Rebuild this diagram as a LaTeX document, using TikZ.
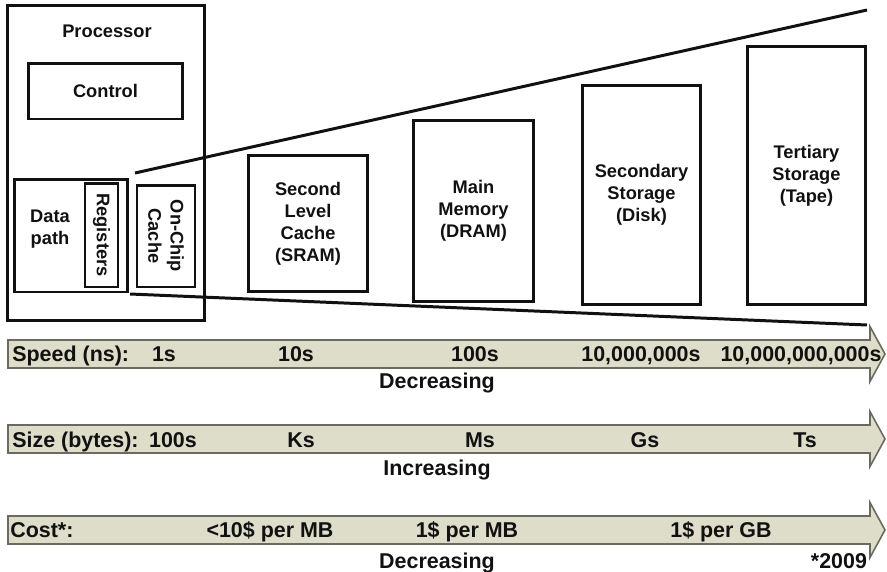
\documentclass[tikz,border=0pt]{standalone}
\usepackage{fontspec}
\setmainfont{Liberation Sans}
\usetikzlibrary{positioning}
\definecolor{bandfill}{HTML}{DDDDC9}
\definecolor{bandedge}{HTML}{6A6A60}
\definecolor{ink}{HTML}{111111}
\newcommand{\boxfont}{\fontsize{10.4}{12.6}\selectfont\bfseries}
\newcommand{\bandfont}{\fontsize{12.2}{14}\selectfont\bfseries}
\tikzset{
  hierarchy diagram/.style={
    x=0.02cm,
    y=-0.02cm,
    line join=miter
  },
  levelbox/.style={
    draw=ink,
    line width=1.7pt,
    align=center,
    inner sep=0pt,
    text=ink,
    font=\boxfont
  },
  boxtext/.style={
    align=center,
    inner sep=0pt,
    text=ink,
    font=\boxfont
  },
  funnelline/.style={
    draw=ink,
    line width=1.7pt
  },
  bandarrow/.style={
    fill=bandfill,
    draw=bandedge,
    line width=0.9pt
  },
  bandtext/.style={
    inner sep=0pt,
    anchor=base,
    text=ink,
    font=\bandfont
  }
}

\begin{document}
\begin{tikzpicture}[hierarchy diagram]
\useasboundingbox (0,0) rectangle (887,572);

% processor and its parts
\node[levelbox, minimum width=3.96cm, minimum height=6.32cm] (proc) at (106,163) {};
\node[boxtext] (proctext) at (107,31) {Processor};
\node[levelbox, minimum width=3.1cm, minimum height=1.12cm] (control) at (105.5,91) {Control};
\node[levelbox, minimum width=2.28cm, minimum height=2.26cm] (dpath) at (71,235.5) {};
\node[boxtext] (dpathtext) at (50,229) {Data\\path};
\node[levelbox, rotate=-90, minimum width=2.08cm, minimum height=0.66cm] (regs) at (101.5,235) {Registers};
\node[levelbox, rotate=-90, minimum width=2.04cm, minimum height=1.16cm] (onchip) at (166,236) {On-Chip\\Cache};

% memory levels
\node[levelbox, minimum width=2.4cm, minimum height=2.74cm] (sram) at (308,223.5) {Second\\Level\\Cache\\(SRAM)};
\node[levelbox, minimum width=2.42cm, minimum height=3.64cm] (dram) at (473.5,211) {Main\\Memory\\(DRAM)};
\node[levelbox, minimum width=2.38cm, minimum height=4.4cm] (disk) at (641.5,195) {Secondary\\Storage\\(Disk)};
\node[levelbox, minimum width=2.38cm, minimum height=5.18cm] (tape) at (806.5,175.5) {Tertiary\\Storage\\(Tape)};

% funnel
\coordinate (fantop) at (135,173);
\coordinate (fantopend) at (867,10);
\coordinate (fanbot) at (130,294);
\coordinate (fanbotend) at (867,325);
\draw[funnelline] (fantop) -- (fantopend);
\draw[funnelline] (fanbot) -- (fanbotend);

% scale arrows
\foreach \c in {354,439,530}
  \draw[bandarrow] (8,\c-14) -- (870,\c-14) -- (870,\c-27.5) -- (885,\c)
    -- (870,\c+27.5) -- (870,\c+14) -- (8,\c+14) -- cycle;

% speed
\node[bandtext, anchor=base west] (speedlbl) at (12,361.5) {Speed (ns):};
\node[bandtext] (speed1) at (164,361.5) {1s};
\node[bandtext] (speed2) at (296,361.5) {10s};
\node[bandtext] (speed3) at (475,361.5) {100s};
\node[bandtext] (speed4) at (641,361.5) {10,000,000s};
\node[bandtext] (speed5) at (801,361.5) {10,000,000,000s};
\node[bandtext] (speeddir) at (437,388) {Decreasing};

% size
\node[bandtext, anchor=base west] (sizelbl) at (12,447) {Size (bytes):};
\node[bandtext] (size1) at (173,447) {100s};
\node[bandtext] (size2) at (301,447) {Ks};
\node[bandtext] (size3) at (480,447) {Ms};
\node[bandtext] (size4) at (645,447) {Gs};
\node[bandtext] (size5) at (805,447) {Ts};
\node[bandtext] (sizedir) at (437,475) {Increasing};

% cost
\node[bandtext, anchor=base west] (costlbl) at (10,537) {Cost*:};
\node[bandtext] (cost1) at (270,537) {<10\$ per MB};
\node[bandtext] (cost2) at (467,537) {1\$ per MB};
\node[bandtext] (cost3) at (721,537) {1\$ per GB};
\node[bandtext] (costdir) at (437,568) {Decreasing};
\node[bandtext] (costyear) at (839,568) {*2009};
\end{tikzpicture}
\end{document}
